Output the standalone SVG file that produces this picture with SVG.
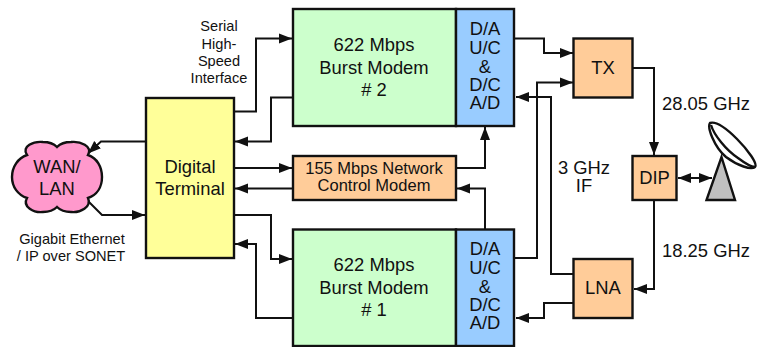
<svg xmlns="http://www.w3.org/2000/svg" width="758" height="347" viewBox="0 0 758 347">
<style>
text{font-family:"Liberation Sans",Arial,sans-serif;fill:#111;text-anchor:middle}
.b{stroke:#111;stroke-width:2.4}
.c{fill:none;stroke:#111;stroke-width:2}
.l{font-size:18.4px}.m{font-size:18.4px}.n{font-size:16.5px}.s{font-size:14.6px}
</style>
<defs>
<marker id="a" markerUnits="userSpaceOnUse" markerWidth="14" markerHeight="12" refX="13" refY="6" orient="auto"><path d="M0,1 L13,6 L0,11 Z" fill="#111"/></marker>
<marker id="r" markerUnits="userSpaceOnUse" markerWidth="14" markerHeight="12" refX="0" refY="6" orient="auto"><path d="M13,1 L0,6 L13,11 Z" fill="#111"/></marker>
</defs>
<g id="connectors">
<path class="c" marker-end="url(#a)" d="M234,111.500H256V38.500H292"/>
<path class="c" marker-end="url(#a)" d="M293,97.500H271V141.500H235"/>
<path class="c" marker-end="url(#a)" d="M234,168H292"/>
<path class="c" marker-end="url(#a)" d="M293,188.500H235"/>
<path class="c" marker-end="url(#a)" d="M234,215H271V259H292"/>
<path class="c" marker-end="url(#a)" d="M293,318H256V244H235"/>
<path class="c" marker-end="url(#a)" d="M146,141.500H101L88,153.500"/>
<path class="c" marker-end="url(#a)" d="M88,201L102,215H145"/>
<path class="c" marker-end="url(#a)" d="M456,168H485V127"/>
<path class="c" marker-end="url(#a)" d="M485,229V188.500H457"/>
<path class="c" marker-end="url(#a)" d="M514,38.500H544V53H573"/>
<path class="c" marker-end="url(#a)" d="M514,258H537V82.500H573"/>
<path class="c" marker-end="url(#a)" d="M573,274H551V97H516"/>
<path class="c" marker-end="url(#a)" d="M573,303H544V318H516"/>
<path class="c" marker-end="url(#a)" d="M632,68H654V155"/>
<path class="c" marker-end="url(#a)" d="M654,200V289H634"/>
<path class="c" marker-start="url(#r)" marker-end="url(#a)" d="M678,178H712"/>
</g>
<g id="cloud"><path class="b" fill="#FF99CC" d="M27,155C21,146 34,141 43,142C49,142 54,144 57,147C60,144 65,142 71,142C80,141 93,146 88,155C97,158 102,167 102,177C102,187 97,195 88,198C92,207 80,213 71,212C65,212 60,210 57,207C54,210 49,212 43,212C34,213 22,207 27,198C18,195 12,187 12,177C12,167 18,158 27,155Z"/>
<text class="l" x="57" y="173">WAN/</text><text class="l" x="57" y="195">LAN</text></g>
<g id="terminal"><rect class="b" x="146" y="98" width="88" height="160" fill="#FFFF99"/>
<text class="l" x="190" y="173">Digital</text><text class="l" x="190" y="195">Terminal</text></g>
<g id="modem2"><rect class="b" x="293" y="9" width="163" height="117" fill="#CCFFCC"/>
<text class="m" x="374" y="51">622 Mbps</text><text class="m" x="374" y="74">Burst Modem</text><text class="m" x="374" y="96"># 2</text></g>
<g id="conv2"><rect class="b" x="456" y="9" width="58" height="117" fill="#99CCFF"/>
<text class="m"><tspan x="485" y="35">D/A</tspan><tspan x="485" y="54">U/C</tspan><tspan x="485" y="73">&amp;</tspan><tspan x="485" y="91">D/C</tspan><tspan x="485" y="109">A/D</tspan></text></g>
<g id="control"><rect class="b" x="293" y="156" width="163" height="44" fill="#FFCC99"/>
<text class="n" x="374" y="174">155 Mbps Network</text><text class="n" x="374" y="191">Control Modem</text></g>
<g id="modem1"><rect class="b" x="293" y="229.500" width="163" height="116.500" fill="#CCFFCC"/>
<text class="m" x="374" y="271">622 Mbps</text><text class="m" x="374" y="294">Burst Modem</text><text class="m" x="374" y="316"># 1</text></g>
<g id="conv1"><rect class="b" x="456" y="229.500" width="58" height="116.500" fill="#99CCFF"/>
<text class="m"><tspan x="485" y="255">D/A</tspan><tspan x="485" y="274">U/C</tspan><tspan x="485" y="293">&amp;</tspan><tspan x="485" y="311">D/C</tspan><tspan x="485" y="329">A/D</tspan></text></g>
<g id="tx"><rect class="b" x="573.500" y="38.500" width="59" height="59" fill="#FFCC99"/><text class="m" x="603" y="74">TX</text></g>
<g id="lna"><rect class="b" x="573.500" y="259" width="59" height="59" fill="#FFCC99"/><text class="m" x="603" y="294">LNA</text></g>
<g id="dip"><rect class="b" x="632.500" y="156" width="44" height="44" fill="#FFCC99"/><text class="m" x="654.500" y="184">DIP</text></g>
<g id="dish"><path class="b" fill="#C0C0C0" d="M721.500,157L735,200H706.500Z"/>
<path class="b" fill="#fff" d="M710,123C716,121 726,128 737,139C748,150 758,164 755,167C751,170 738,166 726,157C714,147 707,127 710,123Z"/>
<path class="b" fill="none" d="M711,125C714,135 726,150 738,158C746,164 752,167 755,167"/></g>
<g id="labels">
<text class="s" x="219" y="31">Serial</text><text class="s" x="219" y="49">High-</text><text class="s" x="219" y="66">Speed</text><text class="s" x="219" y="83">Interface</text>
<text class="s" x="72" y="244">Gigabit Ethernet</text><text class="s" x="71" y="261">/ IP over SONET</text>
<text class="m" x="706" y="110">28.05 GHz</text><text class="m" x="706" y="257">18.25 GHz</text>
<text class="m" x="584" y="174">3 GHz</text><text class="m" x="584" y="192">IF</text>
</g>
</svg>
